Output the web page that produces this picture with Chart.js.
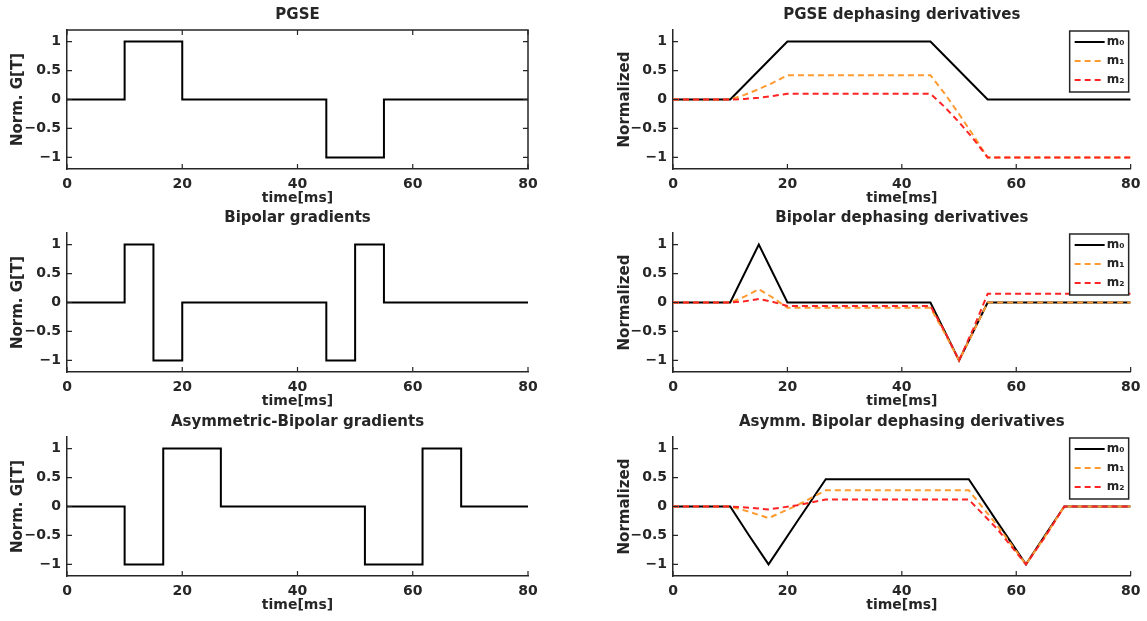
<!DOCTYPE html>
<html><head><meta charset="utf-8">
<script src="https://cdn.jsdelivr.net/npm/chart.js@4.4.1/dist/chart.umd.min.js"></script>
<style>
html,body{margin:0;padding:0;background:#fff;}
#wrap{position:relative;width:1147px;height:621px;overflow:hidden;background:#fff;}
canvas{position:absolute;}
</style></head><body><div id="wrap"></div>
<script>
// ---------------- data ----------------
const xTicks = [0, 20, 40, 60, 80];
const xTickLabels = ['0', '20', '40', '60', '80'];
const yTicks = [-1, -0.5, 0, 0.5, 1];
const yTickLabels = ['\u22121', '\u22120.5', '0', '0.5', '1'];
const legendLabels = ['m\u2080', 'm\u2081', 'm\u2082'];

// PGSE gradient
const pgseT = [0, 10, 10, 20, 20, 45, 45, 55, 55, 80];
const pgseG = [0, 0, 1, 1, 0, 0, -1, -1, 0, 0];
// PGSE dephasing derivatives
const pgseDT = [0, 10, 12.5, 15, 17.5, 20, 45, 47.5, 50, 52.5, 55, 80];
const pgseM0 = [0, 0, 0.25, 0.5, 0.75, 1, 1, 0.75, 0.5, 0.25, 0, 0];
const pgseM1 = [0, 0, 0.08, 0.18, 0.29, 0.42, 0.42, 0.1, -0.25, -0.62, -1, -1];
const pgseM2 = [0, 0, 0.01, 0.03, 0.06, 0.1, 0.1, -0.13, -0.39, -0.68, -1, -1];

// Bipolar gradient
const bipT = [0, 10, 10, 15, 15, 20, 20, 45, 45, 50, 50, 55, 55, 80];
const bipG = [0, 0, 1, 1, -1, -1, 0, 0, -1, -1, 1, 1, 0, 0];
// Bipolar dephasing derivatives
const bipDT = [0, 10, 12.5, 15, 17.5, 20, 45, 47.5, 50, 52.5, 55, 80];
const bipM0 = [0, 0, 0.5, 1, 0.5, 0, 0, -0.5, -1, -0.5, 0, 0];
const bipM1 = [0, 0, 0.1, 0.23, 0.08, -0.09, -0.09, -0.53, -1, -0.51, 0, 0];
const bipM2 = [0, 0, 0.02, 0.06, 0.01, -0.06, -0.06, -0.5, -1, -0.45, 0.15, 0.15];

// Asymmetric bipolar gradient
const asymT = [0, 10, 10, 16.7, 16.7, 26.7, 26.7, 51.7, 51.7, 61.7, 61.7, 68.4, 68.4, 80];
const asymG = [0, 0, -1, -1, 1, 1, 0, 0, -1, -1, 1, 1, 0, 0];
// Asymmetric bipolar dephasing derivatives
const asymDT = [0, 10, 13.3, 16.7, 21.7, 26.7, 51.7, 56.7, 61.7, 65, 68.4, 80];
const asymM0 = [0, 0, -0.5, -1, -0.26, 0.47, 0.47, -0.27, -1, -0.5, 0, 0];
const asymM1 = [0, 0, -0.09, -0.2, 0.02, 0.28, 0.28, -0.33, -1, -0.52, 0, 0];
const asymM2 = [0, 0, -0.02, -0.05, 0.02, 0.12, 0.12, -0.39, -1, -0.53, 0, 0];

// ---------------- style ----------------
const AX = '#262626';
const TXT = '#262626';
const FAM = '"DejaVu Sans", sans-serif';
const tickFont = {family: FAM, size: 14, weight: 'bold', lineHeight: 1.2};
const xlabFont = {family: FAM, size: 14, weight: 'bold', lineHeight: 1.2};
const ylabFont = {family: FAM, size: 15, weight: 'bold', lineHeight: 1.2};
const titleFont = {family: FAM, size: 15, weight: 'bold', lineHeight: 1.2};
const C0 = '#000000', C1 = '#ff9a30', C2 = '#ff2424';
const TICK = 5;
const X_AXIS_H = 40;
const TITLE_H = 30;

function pts(t, v) { return t.map((x, i) => ({x: x, y: v[i]})); }

const panels = [
  {col: 0, row: 0, title: 'PGSE', ylab: 'Norm. G[T]', box: true, legend: false,
   series: [{t: pgseT, v: pgseG, c: C0, dash: []}]},
  {col: 1, row: 0, title: 'PGSE dephasing derivatives', ylab: 'Normalized', box: false, legend: true,
   series: [{t: pgseDT, v: pgseM0, c: C0, dash: []}, {t: pgseDT, v: pgseM1, c: C1, dash: [6, 4]}, {t: pgseDT, v: pgseM2, c: C2, dash: [6, 4]}]},
  {col: 0, row: 1, title: 'Bipolar gradients', ylab: 'Norm. G[T]', box: false, legend: false,
   series: [{t: bipT, v: bipG, c: C0, dash: []}]},
  {col: 1, row: 1, title: 'Bipolar dephasing derivatives', ylab: 'Normalized', box: false, legend: true,
   series: [{t: bipDT, v: bipM0, c: C0, dash: []}, {t: bipDT, v: bipM1, c: C1, dash: [6, 4]}, {t: bipDT, v: bipM2, c: C2, dash: [6, 4]}]},
  {col: 0, row: 2, title: 'Asymmetric-Bipolar gradients', ylab: 'Norm. G[T]', box: false, legend: false,
   series: [{t: asymT, v: asymG, c: C0, dash: []}]},
  {col: 1, row: 2, title: 'Asymm. Bipolar dephasing derivatives', ylab: 'Normalized', box: false, legend: true,
   series: [{t: asymDT, v: asymM0, c: C0, dash: []}, {t: asymDT, v: asymM1, c: C1, dash: [6, 4]}, {t: asymDT, v: asymM2, c: C2, dash: [6, 4]}]}
];

// layout geometry (plot-area boxes)
const colGeom = [
  {canvasLeft: 0, canvasW: 573, L: 67, R: 528, ytitlePad: 9.5},
  {canvasLeft: 600, canvasW: 547, L: 673, R: 1133, ytitlePad: 16}
];
const rowGeom = [{T: 30, B: 169}, {T: 233, B: 372}, {T: 437, B: 576}];

const matlabPlugin = {
  id: 'matlabAxes',
  afterDraw(chart, args, opts) {
    const ctx = chart.ctx, ca = chart.chartArea;
    const xs = chart.scales.x, ys = chart.scales.y;
    ctx.save();
    ctx.strokeStyle = AX; ctx.lineWidth = 1.2; ctx.setLineDash([]);
    ctx.beginPath();
    xTicks.forEach(v => {
      const p = xs.getPixelForValue(v);
      ctx.moveTo(p, ca.bottom); ctx.lineTo(p, ca.bottom - TICK);
      if (opts.box) { ctx.moveTo(p, ca.top); ctx.lineTo(p, ca.top + TICK); }
    });
    yTicks.forEach(v => {
      const p = ys.getPixelForValue(v);
      ctx.moveTo(ca.left, p); ctx.lineTo(ca.left + TICK, p);
      if (opts.box) { ctx.moveTo(ca.right, p); ctx.lineTo(ca.right - TICK, p); }
    });
    ctx.stroke();
    if (opts.box) {
      ctx.lineWidth = 1.5;
      ctx.beginPath();
      ctx.moveTo(ca.left, ca.top); ctx.lineTo(ca.right, ca.top); ctx.lineTo(ca.right, ca.bottom);
      ctx.stroke();
    }
    if (opts.legend) {
      const w = 59, h = 61;
      const x0 = ca.right - 2 - w, y0 = ca.top + 1;
      ctx.fillStyle = '#fff'; ctx.fillRect(x0, y0, w, h);
      ctx.strokeStyle = AX; ctx.lineWidth = 1.5; ctx.strokeRect(x0, y0, w, h);
      chart.data.datasets.forEach((ds, i) => {
        const yy = y0 + 11 + i * 19;
        ctx.strokeStyle = ds.borderColor; ctx.lineWidth = ds.borderWidth;
        ctx.setLineDash(ds.borderDash || []);
        ctx.beginPath(); ctx.moveTo(x0 + 5, yy); ctx.lineTo(x0 + 35, yy); ctx.stroke();
        ctx.setLineDash([]);
        ctx.fillStyle = TXT; ctx.font = 'bold 12px ' + FAM;
        ctx.textBaseline = 'middle'; ctx.textAlign = 'left';
        ctx.fillText(ds.label, x0 + 37, yy);
      });
    }
    ctx.restore();
  }
};

const wrap = document.getElementById('wrap');
panels.forEach(p => {
  const cg = colGeom[p.col], rg = rowGeom[p.row];
  const top = rg.T - TITLE_H;
  const height = rg.B + X_AXIS_H - top;
  const cv = document.createElement('canvas');
  cv.width = cg.canvasW; cv.height = height;
  cv.style.left = cg.canvasLeft + 'px'; cv.style.top = top + 'px';
  cv.style.width = cg.canvasW + 'px'; cv.style.height = height + 'px';
  wrap.appendChild(cv);
  const n = p.series.length;
  const datasets = p.series.map((s, i) => ({
    label: n > 1 ? legendLabels[i] : 'G',
    data: pts(s.t, s.v),
    borderColor: s.c, backgroundColor: s.c,
    borderWidth: 2, borderDash: s.dash,
    pointRadius: 0, pointHoverRadius: 0, tension: 0, fill: false,
    order: n - i
  }));
  new Chart(cv, {
    type: 'line',
    data: {datasets: datasets},
    plugins: [matlabPlugin],
    options: {
      responsive: false, animation: false, devicePixelRatio: 1,
      layout: {padding: {left: 0, top: 0, bottom: 0, right: cg.canvasLeft + cg.canvasW - cg.R}},
      plugins: {
        legend: {display: false}, tooltip: {enabled: false},
        title: {display: true, text: p.title, color: TXT, font: titleFont, fullSize: false,
                padding: {top: 6, bottom: 6}},
        matlabAxes: {box: p.box, legend: p.legend}
      },
      scales: {
        x: {
          type: 'linear', min: 0, max: 80,
          afterBuildTicks: s => { s.ticks = xTicks.map(v => ({value: v})); },
          afterFit: s => { s.height = X_AXIS_H; },
          grid: {display: false, drawTicks: false},
          border: {display: true, color: AX, width: 1.5},
          ticks: {padding: 6.6, color: TXT, font: tickFont, maxRotation: 0, autoSkip: false,
                  callback: v => xTickLabels[xTicks.indexOf(v)]},
          title: {display: true, text: 'time[ms]', color: TXT, font: xlabFont, padding: {top: 0, bottom: 2.6}}
        },
        y: {
          type: 'linear', min: -1.2, max: 1.2,
          afterBuildTicks: s => { s.ticks = yTicks.map(v => ({value: v})); },
          afterFit: s => { s.width = cg.L - cg.canvasLeft; },
          grid: {display: false, drawTicks: false},
          border: {display: true, color: AX, width: 1.5},
          ticks: {padding: 6, color: TXT, font: tickFont, autoSkip: false,
                  callback: v => yTickLabels[yTicks.indexOf(v)]},
          title: {display: true, text: p.ylab, color: TXT, font: ylabFont, padding: {top: cg.ytitlePad, bottom: 0}}
        }
      }
    }
  });
});
</script></body></html>
